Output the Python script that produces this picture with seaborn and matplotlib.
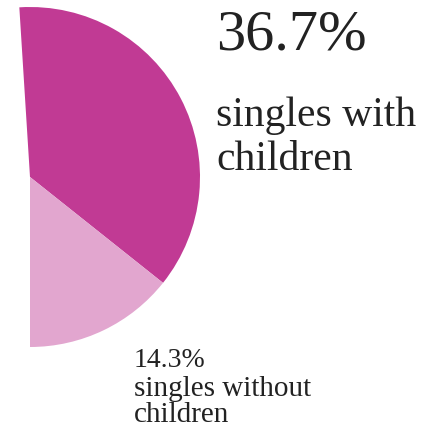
import matplotlib
matplotlib.use("Agg")
import matplotlib.pyplot as plt
import seaborn as sns

# data
groups = ["singles with\nchildren", "singles without\nchildren"]
shares = [36.7, 14.3]
colors = ["#c13a94", "#e2a6cf"]

sns.set_theme(style="white")
plt.rcParams['font.family'] = ['Liberation Serif', 'DejaVu Serif']

W, H = 446, 438
fig = plt.figure(figsize=(W / 100, H / 100), dpi=100)
ax = fig.add_axes([0, 0, 1, 1])

# partial pie: the slices end pointing straight down
total = sum(shares)
ax.pie(
    [s / 100 for s in shares],
    colors=colors,
    normalize=False,
    counterclock=False,
    startangle=-90 + total / 100 * 360,
    radius=1,
    wedgeprops={'linewidth': 0},
)

# map data units to pixels: centre at (30, 177) px from top-left, radius 170 px
r_px, cx, cy = 170, 30, 177
ax.set_aspect('auto')
ax.set_xlim(-cx / r_px, (W - cx) / r_px)
ax.set_ylim(-(H - cy) / r_px, cy / r_px)
ax.axis('off')

def fx(px):
    return px / W

def fy(py):
    return 1 - py / H

txt = '#222222'
# multi-line texts: baseline alignment refers to the last line
fig.text(fx(216), fy(50), f"{shares[0]}%", fontsize=42, color=txt, va='baseline', ha='left')
fig.text(fx(216), fy(170), groups[0], fontsize=30, color=txt, va='baseline', ha='left',
         linespacing=1.2)
fig.text(fx(134), fy(367), f"{shares[1]}%", fontsize=20, color=txt, va='baseline', ha='left')
fig.text(fx(134), fy(422), groups[1], fontsize=21, color=txt, va='baseline', ha='left',
         linespacing=1.0)

fig.savefig("out.png", dpi=100)
